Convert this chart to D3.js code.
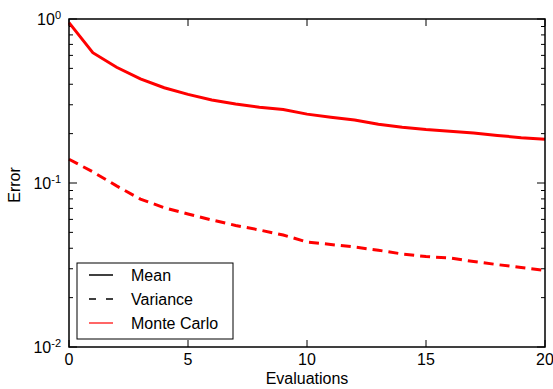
<!doctype html>
<html>
<head>
<script src="https://d3js.org/d3.v7.min.js"></script>
<style>
body { margin: 0; background: white; }
text { font-family: "Liberation Sans", Arial, sans-serif; }
</style>
</head>
<body>
<svg width="553" height="389" id="chart"></svg>
<script>
// evaluations 0..20
var evals = [0,1,2,3,4,5,6,7,8,9,10,11,12,13,14,15,16,17,18,19,20];
// Monte Carlo mean error (solid)
var meanErr = [0.95,0.623,0.508,0.431,0.381,0.347,0.321,0.303,0.290,0.281,0.263,0.252,0.242,0.228,0.219,0.212,0.207,0.202,0.195,0.189,0.185];
// Monte Carlo variance error (dashed)
var varErr = [0.1395,0.117,0.096,0.0798,0.0707,0.0647,0.0595,0.0551,0.0517,0.0482,0.0437,0.0422,0.0407,0.0389,0.0369,0.0356,0.0349,0.0332,0.0318,0.0305,0.0293];
var xTicks = [0,5,10,15,20];
var yTicks = [1,0.1,0.01];
var yExp = ["0","-1","-2"];
var legendLabels = ["Mean","Variance","Monte Carlo"];

var svg = d3.select("#chart");
var pl = 69, pr = 545, pt = 19, pb = 347;

var x = d3.scaleLinear().domain([0,20]).range([pl,pr]);
var y = d3.scaleLog().domain([0.01,1]).range([pb,pt]);

// minor ticks
var minor = [];
[0.01,0.1].forEach(function(b){ for (var k=2;k<10;k++) minor.push(b*k); });

var axes = svg.append("g").attr("stroke","#000").attr("stroke-width",1);
// left/right major + minor ticks (inward)
yTicks.forEach(function(v){
  axes.append("line").attr("x1",pl).attr("x2",pl+8).attr("y1",y(v)).attr("y2",y(v));
  axes.append("line").attr("x1",pr).attr("x2",pr-8).attr("y1",y(v)).attr("y2",y(v));
});
minor.forEach(function(v){
  axes.append("line").attr("x1",pl).attr("x2",pl+4).attr("y1",y(v)).attr("y2",y(v));
  axes.append("line").attr("x1",pr).attr("x2",pr-4).attr("y1",y(v)).attr("y2",y(v));
});
xTicks.forEach(function(v){
  axes.append("line").attr("x1",x(v)).attr("x2",x(v)).attr("y1",pb).attr("y2",pb-7);
  axes.append("line").attr("x1",x(v)).attr("x2",x(v)).attr("y1",pt).attr("y2",pt+7);
});

var line = d3.line().x(function(d,i){ return x(evals[i]); }).y(function(d){ return y(d); });

svg.append("path").datum(meanErr).attr("d",line)
  .attr("fill","none").attr("stroke","#ff0000").attr("stroke-width",3);
svg.append("path").datum(varErr).attr("d",line)
  .attr("fill","none").attr("stroke","#ff0000").attr("stroke-width",3)
  .attr("stroke-dasharray","10,6");

// frame
svg.append("rect").attr("x",pl).attr("y",pt).attr("width",pr-pl).attr("height",pb-pt)
  .attr("fill","none").attr("stroke","#000").attr("stroke-width",1.5);

// tick labels
xTicks.forEach(function(v){
  svg.append("text").attr("x",x(v)).attr("y",pb+18).attr("text-anchor","middle")
    .attr("font-size",16).text(v);
});
yTicks.forEach(function(v,i){
  var t = svg.append("text").attr("x",pl-8).attr("y",y(v)+6).attr("text-anchor","end").attr("font-size",16);
  t.append("tspan").text("10");
  t.append("tspan").attr("dy",-6).attr("font-size",11).text(yExp[i]);
});

// axis titles
svg.append("text").attr("x",307).attr("y",384).attr("text-anchor","middle").attr("font-size",16).text("Evaluations");
svg.append("text").attr("transform","translate(20,185)rotate(-90)").attr("text-anchor","middle")
  .attr("font-size",16).text("Error");

// legend
var lg = svg.append("g");
lg.append("rect").attr("x",77).attr("y",263).attr("width",156).attr("height",76)
  .attr("fill","white").attr("stroke","#000").attr("stroke-width",1);
var lstyle = [{c:"#000",d:null},{c:"#000",d:"7,10"},{c:"#ff3333",d:null}];
legendLabels.forEach(function(s,i){
  var ly = 275 + i*24;
  lg.append("line").attr("x1",89).attr("x2",113).attr("y1",ly).attr("y2",ly)
    .attr("stroke",lstyle[i].c).attr("stroke-width",1.5).attr("stroke-dasharray",lstyle[i].d);
  lg.append("text").attr("x",131).attr("y",ly+6).attr("font-size",16).text(s);
});
</script>
</body>
</html>
